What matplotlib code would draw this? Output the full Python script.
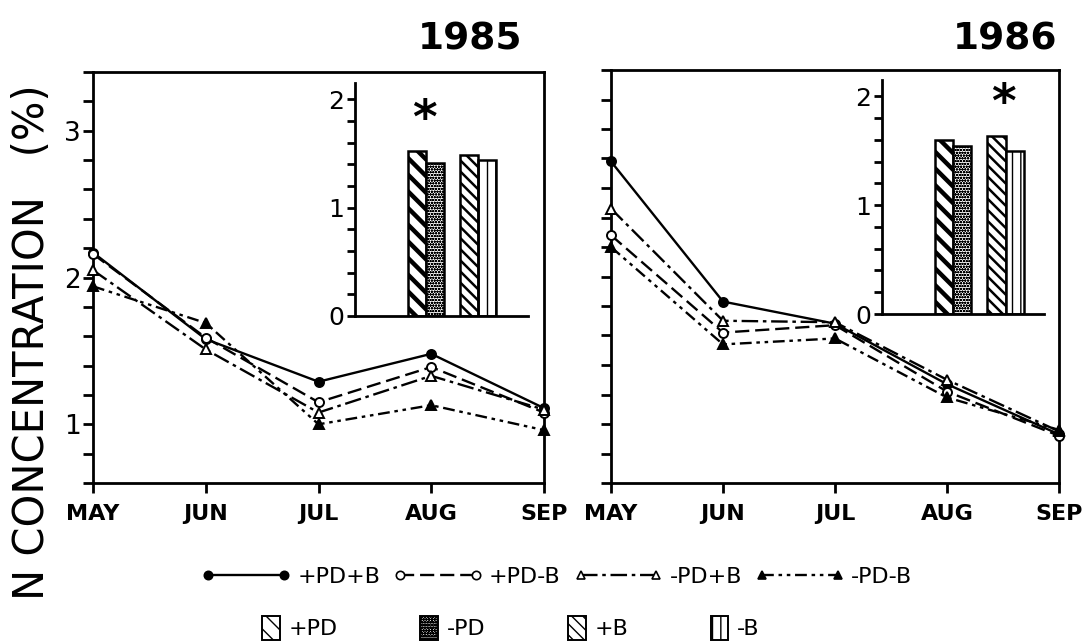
import matplotlib

matplotlib.use("Agg")
from matplotlib import pyplot as plt
from matplotlib.lines import Line2D
from matplotlib.patches import Patch
from matplotlib.ticker import MultipleLocator, NullFormatter

# N concentration (%) read from the two seasons
MONTHS = ["MAY", "JUN", "JUL", "AUG", "SEP"]
SERIES = ["+PD+B", "+PD-B", "-PD+B", "-PD-B"]

n_1985_pd_b = [2.17, 1.58, 1.29, 1.48, 1.11]
n_1985_pd_nob = [2.16, 1.59, 1.15, 1.39, 1.08]
n_1985_nopd_b = [2.05, 1.51, 1.08, 1.33, 1.10]
n_1985_nopd_nob = [1.94, 1.69, 1.00, 1.13, 0.96]

n_1986_pd_b = [2.78, 1.83, 1.68, 1.27, 0.93]
n_1986_pd_nob = [2.28, 1.62, 1.67, 1.22, 0.92]
n_1986_nopd_b = [2.46, 1.70, 1.69, 1.30, 0.95]
n_1986_nopd_nob = [2.20, 1.54, 1.58, 1.18, 0.96]

# seasonal means shown in the insets
INSET_LABELS = ["+PD", "-PD", "+B", "-B"]
inset_1985 = [1.52, 1.41, 1.49, 1.44]
inset_1986 = [1.60, 1.54, 1.64, 1.50]
star_group_1985 = 0
star_group_1986 = 1

LINE_STYLES = [
    dict(linestyle="-", marker="o", markerfacecolor="black"),
    dict(linestyle=(0, (6, 2.5)), marker="o", markerfacecolor="white"),
    dict(linestyle=(0, (7, 2, 1.5, 2)), marker="^", markerfacecolor="white"),
    dict(linestyle=(0, (5, 2, 1.5, 2, 1.5, 2)), marker="^", markerfacecolor="black"),
]
BAR_STYLES = [
    dict(hatch="\\\\", hlw=3.2),
    dict(hatch="oooooo", hlw=0.7),
    dict(hatch="\\\\\\", hlw=1.8),
    dict(hatch="||", hlw=1.0),
]

FONT = "DejaVu Sans"
plt.rcParams.update({
    "font.family": FONT,
    "axes.linewidth": 2.0,
    "xtick.major.width": 2.0,
    "ytick.major.width": 2.0,
    "ytick.minor.width": 2.0,
    "xtick.major.size": 7,
    "ytick.major.size": 7,
    "ytick.minor.size": 7,
    "hatch.color": "black",
})

W, H = 1089, 644
fig = plt.figure(figsize=(W / 100, H / 100), dpi=100)


def px_axes(x0, y0, x1, y1):
    return fig.add_axes([x0 / W, 1 - y1 / H, (x1 - x0) / W, (y1 - y0) / H])


def draw_main(ax, series_values, show_labels):
    x = list(range(len(MONTHS)))
    for values, style, label in zip(series_values, LINE_STYLES, SERIES):
        ax.plot(x, values, color="black", linewidth=1.7, markersize=6.5,
                markeredgecolor="black", markeredgewidth=1.4, label=label,
                clip_on=False, zorder=3, **style)
    ax.set_xlim(0, len(MONTHS) - 1)
    ax.set_ylim(0.6, 3.4)
    ax.set_xticks(x)
    ax.set_xticklabels(MONTHS, fontsize=16, fontweight="bold")
    ax.yaxis.set_major_locator(MultipleLocator(1))
    ax.yaxis.set_minor_locator(MultipleLocator(0.2))
    ax.tick_params(axis="x", pad=8)
    ax.tick_params(axis="y", labelsize=19, pad=2)
    if not show_labels:
        ax.yaxis.set_major_formatter(NullFormatter())


def draw_inset(ax, values, star_group, xmax):
    positions = [1.64, 2.13, 3.04, 3.52]
    for pos, val, st in zip(positions, values, BAR_STYLES):
        bar = ax.bar(pos, val, width=0.48, color="white", edgecolor="black",
                     linewidth=1.8, hatch=st["hatch"], zorder=2)[0]
        if hasattr(bar, "set_hatch_linewidth"):
            bar.set_hatch_linewidth(st["hlw"])
    group_x = (positions[2 * star_group] + positions[2 * star_group + 1]) / 2
    top = max(values[2 * star_group:2 * star_group + 2])
    ax.text(group_x - 0.05, top + 0.08, "*", fontsize=34, fontweight="bold",
            ha="center", va="bottom")
    ax.set_xlim(0, xmax)
    ax.set_ylim(0, 2.15)
    ax.patch.set_alpha(0)
    ax.spines["top"].set_visible(False)
    ax.spines["right"].set_visible(False)
    ax.set_xticks([])
    ax.yaxis.set_major_locator(MultipleLocator(1))
    ax.yaxis.set_minor_locator(MultipleLocator(0.2))
    ax.tick_params(axis="y", which="both", length=6, labelsize=18, pad=2)


ax85 = px_axes(93, 72, 544, 483)
ax86 = px_axes(611, 70, 1059, 483)
draw_main(ax85, [n_1985_pd_b, n_1985_pd_nob, n_1985_nopd_b, n_1985_nopd_nob], True)
draw_main(ax86, [n_1986_pd_b, n_1986_pd_nob, n_1986_nopd_b, n_1986_nopd_nob], False)

in85 = px_axes(355, 83, 528, 316)
in86 = px_axes(882, 80, 1044, 314)
draw_inset(in85, inset_1985, star_group_1985, 4.6)
draw_inset(in86, inset_1986, star_group_1986, 4.3)

fig.text(470 / W, 1 - 40 / H, "1985", fontsize=27, fontweight="bold",
         ha="center", va="center")
fig.text(1005 / W, 1 - 40 / H, "1986", fontsize=27, fontweight="bold",
         ha="center", va="center")
fig.text(32 / W, 1 - 342 / H, "N CONCENTRATION   (%)", fontsize=30,
         rotation=90, ha="center", va="center")

line_handles = [
    Line2D([], [], color="black", linewidth=1.7, markersize=6,
           markeredgecolor="black", markeredgewidth=1.2, **style)
    for style in LINE_STYLES
]
fig.legend(line_handles, SERIES, loc="center", bbox_to_anchor=(557 / W, 1 - 577 / H),
           ncol=4, frameon=False, fontsize=16, numpoints=2, handlelength=4.0,
           handletextpad=0.3, columnspacing=0.6, borderpad=0)

bar_handles = []
for st in BAR_STYLES:
    p = Patch(facecolor="white", edgecolor="black", linewidth=1.4, hatch=st["hatch"])
    if hasattr(p, "set_hatch_linewidth"):
        p.set_hatch_linewidth(st["hlw"] * 0.7)
    bar_handles.append(p)
fig.legend(bar_handles, INSET_LABELS, loc="center", bbox_to_anchor=(511 / W, 1 - 628 / H),
           ncol=4, frameon=False, fontsize=16, handlelength=0.8, handleheight=1.3,
           handletextpad=0.4, columnspacing=3.7, borderpad=0)

fig.savefig("out.png", dpi=100, facecolor="white")
